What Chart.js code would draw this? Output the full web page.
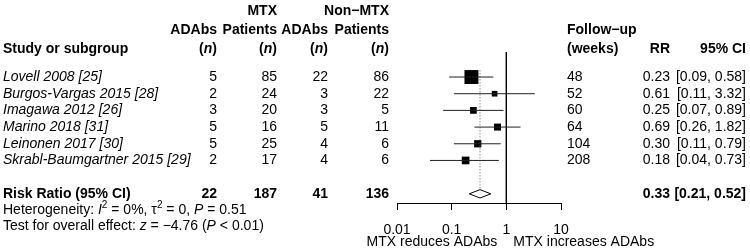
<!DOCTYPE html>
<html>
<head>
<meta charset="utf-8">
<script src="https://cdn.jsdelivr.net/npm/chart.js@4"></script>
<style>
  html, body { margin: 0; padding: 0; background: #fff; }
  #wrap { width: 750px; height: 252px; }
</style>
</head>
<body>
<div id="wrap"><canvas id="forest" width="750" height="252"></canvas></div>
<script>
// study data
const studies = ['Lovell 2008 [25]', 'Burgos-Vargas 2015 [28]', 'Imagawa 2012 [26]',
  'Marino 2018 [31]', 'Leinonen 2017 [30]', 'Skrabl-Baumgartner 2015 [29]'];
const mtxAdabs = [5, 2, 3, 5, 5, 2];
const mtxPatients = [85, 24, 20, 16, 25, 17];
const nonMtxAdabs = [22, 3, 3, 5, 4, 4];
const nonMtxPatients = [86, 22, 5, 11, 6, 6];
const followUp = [48, 52, 60, 64, 104, 208];
const rr = [0.23, 0.61, 0.25, 0.69, 0.30, 0.18];
const ciLow = [0.09, 0.11, 0.07, 0.26, 0.11, 0.04];
const ciHigh = [0.58, 3.32, 0.89, 1.82, 0.79, 0.73];
const weights = [45, 7.4, 10.4, 11.3, 12.2, 13.6];
const totals = [22, 187, 41, 136];
const pooled = [0.33, 0.21, 0.52]; // RR, lower, upper
const tickValues = [0.01, 0.1, 1, 10];

const totalRow = studies.length + 1;
const yMin = -1.5, yMax = 7.55;
const FONT = '"Liberation Sans", Arial, Helvetica, sans-serif';

const datasets = [];
// whiskers
studies.forEach((s, i) => {
  datasets.push({
    type: 'line',
    data: [{x: ciLow[i], y: i}, {x: ciHigh[i], y: i}],
    borderColor: '#222', borderWidth: 1, pointRadius: 0
  });
});
// reference line at RR = 1
datasets.push({
  type: 'line',
  data: [{x: 1, y: yMin}, {x: 1, y: yMax}],
  borderColor: '#000', borderWidth: 1, pointRadius: 0
});
// dotted line at pooled estimate
datasets.push({
  type: 'line',
  data: [{x: pooled[0], y: -0.4}, {x: pooled[0], y: totalRow - 0.25}],
  borderColor: '#555', borderWidth: 1, borderDash: [1, 2], pointRadius: 0
});
// boxes
datasets.push({
  type: 'scatter',
  data: rr.map((v, i) => ({x: v, y: i})),
  pointStyle: 'rect',
  pointRadius: ctx => 1.47 * Math.sqrt(weights[ctx.dataIndex]),
  backgroundColor: '#000', borderColor: '#000', borderWidth: 0
});
// pooled diamond
datasets.push({
  type: 'line',
  data: [
    {x: pooled[1], y: totalRow}, {x: pooled[0], y: totalRow - 0.25},
    {x: pooled[2], y: totalRow}, {x: pooled[0], y: totalRow + 0.25},
    {x: pooled[1], y: totalRow}
  ],
  borderColor: '#000', borderWidth: 1, pointRadius: 0, fill: false, tension: 0
});

// draw a line of mixed-style text
function rich(ctx, parts, x, y, align, bold) {
  const base = bold ? 'bold ' : '';
  const fontOf = p => (p.i ? 'italic ' : '') + base + (p.sup ? '10px ' : '14px ') + FONT;
  let w = 0;
  parts.forEach(p => { ctx.font = fontOf(p); w += ctx.measureText(p.t).width; });
  let cx = align === 'right' ? x - w : align === 'center' ? x - w / 2 : x;
  ctx.textAlign = 'left';
  ctx.textBaseline = 'middle';
  parts.forEach(p => {
    ctx.font = fontOf(p);
    ctx.fillText(p.t, cx, p.sup ? y - 5 : y);
    cx += ctx.measureText(p.t).width;
  });
}
function txt(ctx, t, x, y, align, style) {
  ctx.font = (style || '') + ' 14px ' + FONT;
  ctx.textAlign = align;
  ctx.textBaseline = 'middle';
  ctx.fillText(t, x, y);
}

const tablePlugin = {
  id: 'table',
  afterDraw(chart) {
    const ctx = chart.ctx;
    const ys = chart.scales.y, xs = chart.scales.x;
    ctx.save();
    ctx.fillStyle = '#000';
    const cols = [217, 277, 328, 389];
    const fu = 567, rrX = 670, ciX = 746;
    // headers
    txt(ctx, 'MTX', cols[1], 11, 'right', 'bold');
    txt(ctx, 'Non\u2212MTX', cols[3], 11, 'right', 'bold');
    txt(ctx, 'ADAbs', cols[0], 30, 'right', 'bold');
    txt(ctx, 'Patients', cols[1], 30, 'right', 'bold');
    txt(ctx, 'ADAbs', cols[2], 30, 'right', 'bold');
    txt(ctx, 'Patients', cols[3], 30, 'right', 'bold');
    txt(ctx, 'Follow\u2212up', fu, 30, 'left', 'bold');
    txt(ctx, 'Study or subgroup', 3, 49, 'left', 'bold');
    cols.forEach(c => rich(ctx, [{t: '('}, {t: 'n', i: true}, {t: ')'}], c, 49, 'right', true));
    txt(ctx, '(weeks)', fu, 49, 'left', 'bold');
    txt(ctx, 'RR', rrX, 49, 'right', 'bold');
    txt(ctx, '95% CI', ciX, 49, 'right', 'bold');
    // study rows
    studies.forEach((s, i) => {
      const y = ys.getPixelForValue(i);
      txt(ctx, s, 3, y, 'left', 'italic');
      txt(ctx, String(mtxAdabs[i]), cols[0], y, 'right');
      txt(ctx, String(mtxPatients[i]), cols[1], y, 'right');
      txt(ctx, String(nonMtxAdabs[i]), cols[2], y, 'right');
      txt(ctx, String(nonMtxPatients[i]), cols[3], y, 'right');
      txt(ctx, String(followUp[i]), fu, y, 'left');
      txt(ctx, rr[i].toFixed(2), rrX, y, 'right');
      txt(ctx, '[' + ciLow[i].toFixed(2) + ', ' + ciHigh[i].toFixed(2) + ']', ciX, y, 'right');
    });
    // total row
    const ty = ys.getPixelForValue(totalRow);
    txt(ctx, 'Risk Ratio (95% CI)', 3, ty, 'left', 'bold');
    totals.forEach((v, k) => txt(ctx, String(v), cols[k], ty, 'right', 'bold'));
    txt(ctx, pooled[0].toFixed(2), rrX, ty, 'right', 'bold');
    txt(ctx, '[' + pooled[1].toFixed(2) + ', ' + pooled[2].toFixed(2) + ']', ciX, ty, 'right', 'bold');
    rich(ctx, [{t: 'Heterogeneity: '}, {t: 'I', i: true}, {t: '2', sup: true}, {t: ' = 0%, \u03c4'},
      {t: '2', sup: true}, {t: ' = 0, '}, {t: 'P', i: true}, {t: ' = 0.51'}], 3, 210, 'left');
    rich(ctx, [{t: 'Test for overall effect: '}, {t: 'z', i: true}, {t: ' = \u22124.76 ('},
      {t: 'P', i: true}, {t: ' < 0.01)'}], 3, 226, 'left');
    // direction labels
    const one = xs.getPixelForValue(1);
    txt(ctx, 'MTX reduces ADAbs', one - 9, 242, 'right');
    txt(ctx, 'MTX increases ADAbs', one + 7, 242, 'left');
    ctx.restore();
  }
};

new Chart(document.getElementById('forest'), {
  data: { datasets: datasets },
  options: {
    responsive: false,
    devicePixelRatio: 1,
    animation: false,
    layout: { padding: { left: 397, right: 189, top: 52, bottom: 0 } },
    plugins: { legend: { display: false }, tooltip: { enabled: false } },
    elements: { line: { clip: false } },
    scales: {
      x: {
        type: 'logarithmic',
        position: 'bottom',
        min: 0.01,
        max: 10,
        afterBuildTicks: scale => { scale.ticks = tickValues.map(v => ({value: v})); },
        afterFit: scale => { scale.height = 49; },
        grid: { drawOnChartArea: false, drawTicks: true, tickLength: 7, color: '#000' },
        border: { display: true, color: '#000', width: 1 },
        ticks: {
          color: '#000', padding: 12, maxRotation: 0, autoSkip: false,
          font: { size: 14, family: FONT },
          callback: v => String(v)
        }
      },
      y: {
        type: 'linear',
        reverse: true,
        min: yMin,
        max: yMax,
        display: false
      }
    }
  },
  plugins: [tablePlugin]
});
</script>
</body>
</html>
